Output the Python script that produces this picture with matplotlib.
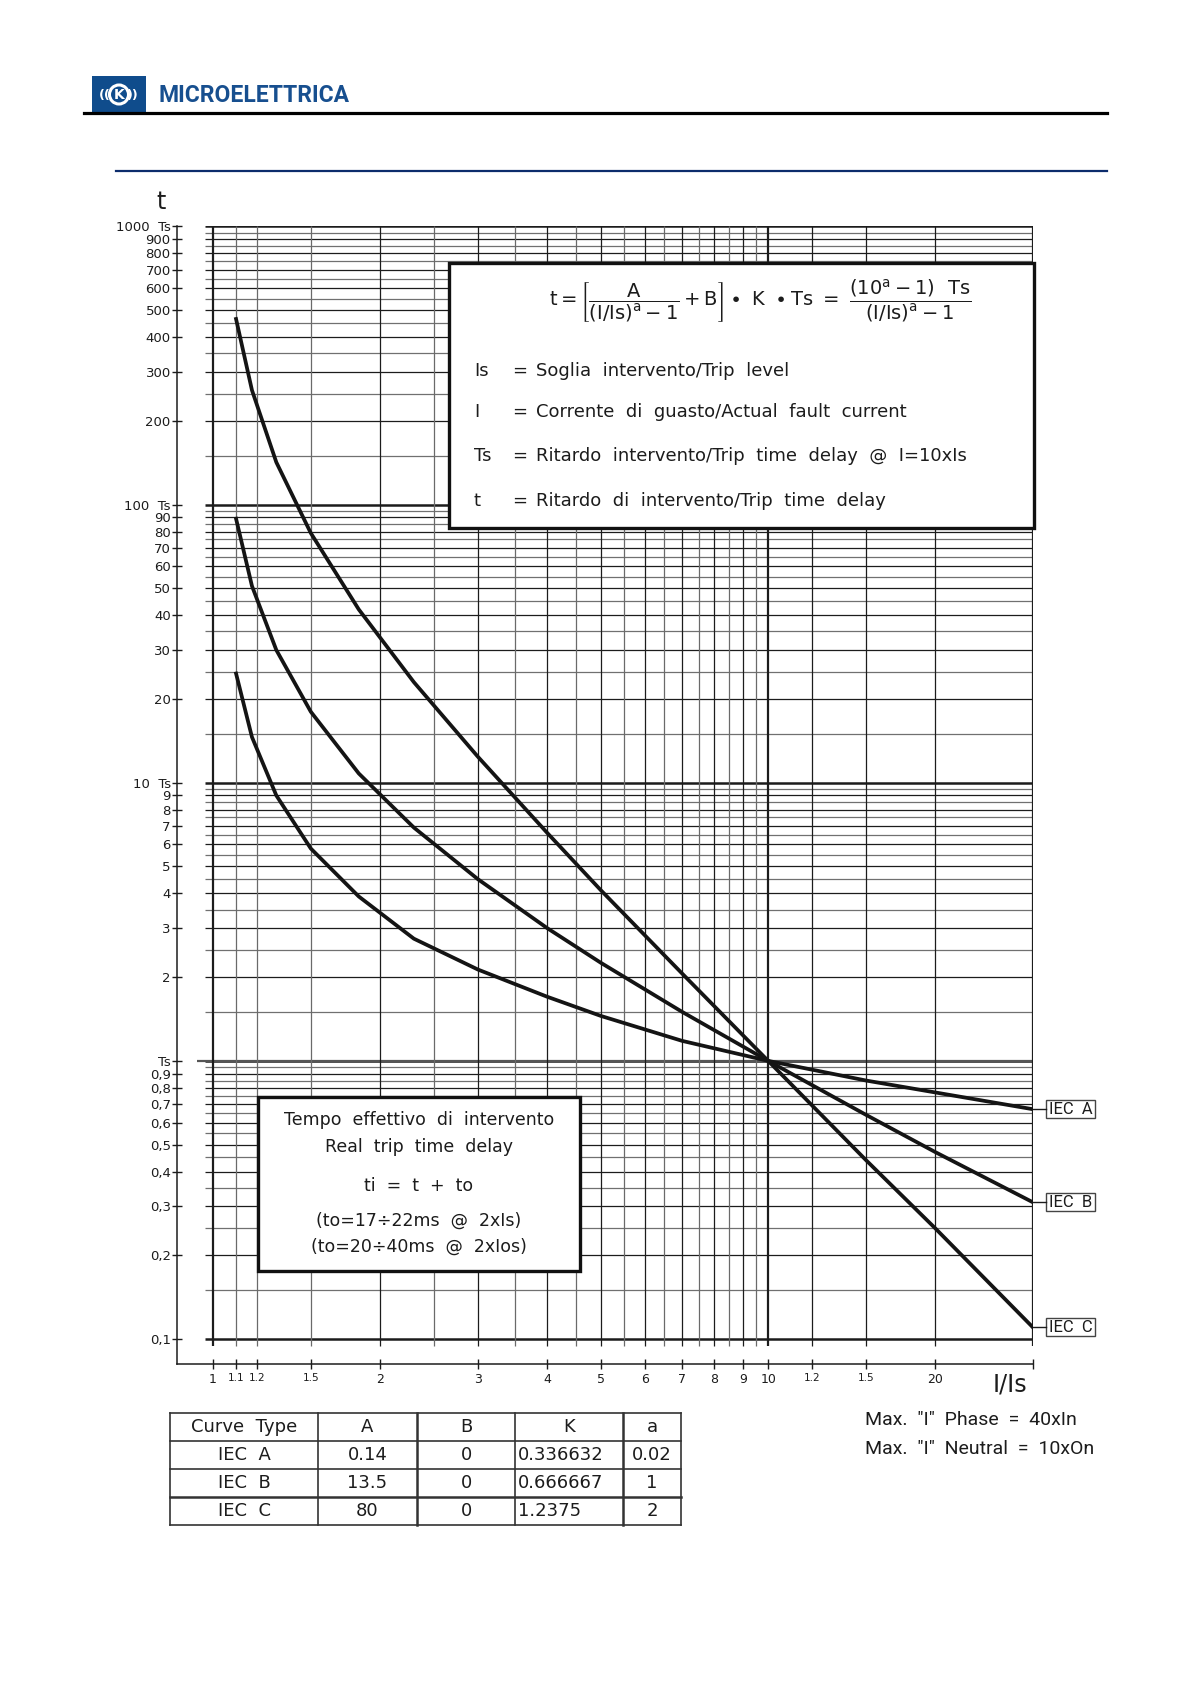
import matplotlib
matplotlib.use("Agg")
import matplotlib.pyplot as plt
from matplotlib.patches import Rectangle, Circle
from matplotlib.ticker import NullLocator

plt.rcParams['font.family'] = ['DejaVu Sans']
plt.rcParams['mathtext.fontset'] = 'dejavusans'
NARROW = ['Roboto', 'DejaVu Sans']
INK = '#1c1c1c'

# curve points (I/Is, t in multiples of Ts)
x_pts = [1.1, 1.175, 1.3, 1.5, 1.83, 2.3, 3, 4, 5, 7, 10, 15, 20, 30]
iec_a = [24.7, 14.6, 9.0, 5.8, 3.9, 2.75, 2.13, 1.70, 1.45, 1.18, 1.0, 0.85, 0.77, 0.67]
iec_b = [89, 51, 30, 18, 10.8, 6.9, 4.5, 3.0, 2.25, 1.5, 1.0, 0.64, 0.47, 0.31]
iec_c = [465, 258, 142, 79, 42, 23, 12.4, 6.6, 4.1, 2.06, 1.0, 0.44, 0.25, 0.11]
curve_names = ['IEC  A', 'IEC  B', 'IEC  C']

# axis ticks
x_ticks = [1, 1.1, 1.2, 1.5, 2, 3, 4, 5, 6, 7, 8, 9, 10, 12, 15, 20, 30]
x_labels = ['1', '1.1', '1.2', '1.5', '2', '3', '4', '5', '6', '7', '8', '9', '10', '1.2', '1.5', '20', '']
y_ticks = [0.1, 0.2, 0.3, 0.4, 0.5, 0.6, 0.7, 0.8, 0.9, 1,
           2, 3, 4, 5, 6, 7, 8, 9, 10,
           20, 30, 40, 50, 60, 70, 80, 90, 100,
           200, 300, 400, 500, 600, 700, 800, 900, 1000]
y_labels = ['0,1', '0,2', '0,3', '0,4', '0,5', '0,6', '0,7', '0,8', '0,9', 'Ts',
            '2', '3', '4', '5', '6', '7', '8', '9', '10  Ts',
            '20', '30', '40', '50', '60', '70', '80', '90', '100  Ts',
            '200', '300', '400', '500', '600', '700', '800', '900', '1000  Ts']

# grid of the log paper
grid_x = [1, 1.1, 1.2, 1.5, 2, 2.5, 3, 3.5, 4, 4.5, 5, 5.5, 6, 6.5, 7, 7.5,
          8, 8.5, 9, 9.5, 10, 12, 15, 20, 30]
grid_mult = [1, 1.5, 2, 2.5, 3, 3.5, 4, 4.5, 5, 5.5, 6, 6.5, 7, 7.5, 8, 8.5, 9, 9.5]
decades = [0.1, 1, 10, 100]

# table under the chart
table_header = ['Curve  Type', 'A', 'B', 'K', 'a']
table_rows = [['IEC  A', '0.14', '0', '0.336632', '0.02'],
              ['IEC  B', '13.5', '0', '0.666667', '1'],
              ['IEC  C', '80', '0', '1.2375', '2']]

W, H = 1192, 1685
fig = plt.figure(figsize=(W / 100, H / 100), dpi=100)
fig.patch.set_facecolor('white')

ax = fig.add_axes([177 / W, 1 - 1364 / H, (1033 - 177) / W, (1364 - 226.5) / H])
ax.set_xscale('log')
ax.set_yscale('log')
ax.set_xlim(0.861, 30)
ax.set_ylim(0.0813, 1000)

# horizontal lines
for d in decades:
    for m in grid_mult:
        v = d * m
        if m == 1:
            ax.hlines(v, 0.967, 30, color=INK, lw=1.8, zorder=1)
        elif m % 1:
            ax.hlines(v, 0.967, 30, color='#707070', lw=0.9, zorder=1)
        else:
            ax.hlines(v, 0.967, 30, color=INK, lw=0.9, zorder=1)
ax.hlines(1000, 0.967, 30, color=INK, lw=1.8, zorder=1)
ax.hlines(1, 0.936, 30, color='#555555', lw=1.6, zorder=1)
# vertical lines
for v in grid_x:
    if v in (1, 10, 30):
        ax.vlines(v, 0.0944, 1000, color=INK, lw=1.6, zorder=1)
    elif v % 1:
        ax.vlines(v, 0.0944, 1000, color='#6a6a6a', lw=0.9, zorder=1)
    else:
        ax.vlines(v, 0.0944, 1000, color=INK, lw=0.9, zorder=1)

for ys in (iec_a, iec_b, iec_c):
    ax.plot(x_pts, ys, color='#141414', lw=2.7, solid_joinstyle='round', zorder=3)

ax.spines['top'].set_visible(False)
ax.spines['right'].set_visible(False)
for s in ('left', 'bottom'):
    ax.spines[s].set_color(INK)
    ax.spines[s].set_linewidth(1.1)
ax.set_xticks(x_ticks)
ax.set_xticklabels(x_labels)
ax.set_yticks(y_ticks)
ax.set_yticklabels(y_labels)
ax.xaxis.set_minor_locator(NullLocator())
ax.yaxis.set_minor_locator(NullLocator())
ax.tick_params(direction='inout', length=7, width=1, colors=INK)
ax.tick_params(axis='y', pad=1, labelsize=9.5)
ax.tick_params(axis='x', pad=3, labelsize=9)
for lab in ax.get_xticklabels():
    if '.' in lab.get_text():
        lab.set_fontsize(7.5)
ax.patch.set_alpha(0)

# overlay in page pixels
ov = fig.add_axes([0, 0, 1, 1], zorder=5)
ov.set_xlim(0, W)
ov.set_ylim(H, 0)
ov.axis('off')
ov.patch.set_alpha(0)


def to_px(x, y):
    dx, dy = ax.transData.transform((x, y))
    return dx, H - dy


# header
ov.add_patch(Rectangle((92, 76), 54, 37, color='#0f4c8c', lw=0))
ov.add_patch(Circle((119, 94.5), 9.5, fill=False, ec='white', lw=2.2))
ov.text(119, 95, 'K', color='white', fontsize=10, fontweight='bold', ha='center', va='center')
ov.text(105, 95, '((', color='white', fontsize=9, fontweight='bold', ha='center', va='center')
ov.text(133, 95, '))', color='white', fontsize=9, fontweight='bold', ha='center', va='center')
ov.text(158, 95, 'MICROELETTRICA', color='#174f8f', fontsize=16.5, fontweight='bold',
        family=NARROW, ha='left', va='center')
ov.plot([84, 1107], [113.5, 113.5], color='black', lw=2.3)
ov.plot([116, 1107], [171.5, 171.5], color='#0c2c6c', lw=1.6)

# axis titles
ov.text(161, 202, 't', fontsize=17, color=INK, ha='center', va='center')
ov.text(1010, 1385, 'I/Is', fontsize=17, color=INK, ha='center', va='center')

# formula box
ov.add_patch(Rectangle((449, 263), 585, 265, fc='white', ec='#111111', lw=2.4, zorder=4))
ov.text(760, 301, r'$\mathrm{t}=\left[\dfrac{\mathrm{A}}{(\mathrm{I/Is})^{\mathrm{a}}-1}+\mathrm{B}\right]'
        r'\bullet\ \mathrm{K}\ \bullet\mathrm{Ts}\ =\ \dfrac{(10^{\mathrm{a}}-1)\ \ \mathrm{Ts}}'
        r'{(\mathrm{I/Is})^{\mathrm{a}}-1}$',
        fontsize=14, color=INK, ha='center', va='center', zorder=6)
defs = [('Is', 'Soglia  intervento/Trip  level', 371),
        ('I', 'Corrente  di  guasto/Actual  fault  current', 412),
        ('Ts', 'Ritardo  intervento/Trip  time  delay  @  I=10xIs', 456),
        ('t', 'Ritardo  di  intervento/Trip  time  delay', 501)]
for sym, txt, yy in defs:
    ov.text(474, yy, sym, fontsize=13, color=INK, ha='left', va='center', zorder=6)
    ov.text(512, yy, '=', fontsize=13, color=INK, ha='left', va='center', zorder=6)
    ov.text(536, yy, txt, fontsize=13, color=INK, ha='left', va='center', zorder=6)

# real trip time box
ov.add_patch(Rectangle((258, 1097), 322, 174, fc='white', ec='#111111', lw=2.4, zorder=4))
lines = [('Tempo  effettivo  di  intervento', 1120), ('Real  trip  time  delay', 1147),
         ('ti  =  t  +  to', 1186), ('(to=17÷22ms  @  2xIs)', 1221),
         ('(to=20÷40ms  @  2xIos)', 1247)]
for txt, yy in lines:
    ov.text(419, yy, txt, fontsize=12.5, color=INK, ha='center', va='center', zorder=6)

# curve end labels
for name, ys in zip(curve_names, (iec_a, iec_b, iec_c)):
    px, py = to_px(x_pts[-1], ys[-1])
    ov.plot([px, px + 13], [py, py], color=INK, lw=1)
    ov.add_patch(Rectangle((px + 13, py - 9), 49, 18, fc='white', ec='#444444', lw=1))
    ov.text(px + 16, py, name, fontsize=12, family=NARROW, color=INK, ha='left', va='center')

# max current notes
ov.text(865, 1420, 'Max.  "I"  Phase  =  40xIn', fontsize=14, family=NARROW, color=INK,
        ha='left', va='center')
ov.text(865, 1449, 'Max.  "I"  Neutral  =  10xOn', fontsize=14, family=NARROW, color=INK,
        ha='left', va='center')

# parameter table
col_edges = [170, 318, 417, 515, 623, 681]
row_edges = [1413, 1441, 1469, 1497, 1525]
col_lw = [1.2, 1.2, 1.8, 1.2, 1.8, 1.2]
row_lw = [1.2, 1.2, 1.2, 1.8, 1.2]
for x, lw in zip(col_edges, col_lw):
    ov.plot([x, x], [row_edges[0], row_edges[-1]], color='#333333', lw=lw)
for y, lw in zip(row_edges, row_lw):
    ov.plot([col_edges[0], col_edges[-1]], [y, y], color='#333333', lw=lw)
for r, row in enumerate([table_header] + table_rows):
    yy = (row_edges[r] + row_edges[r + 1]) / 2
    for c, cell in enumerate(row):
        if c == 3 and r > 0:
            ov.text(col_edges[c] + 3, yy, cell, fontsize=13, color=INK, ha='left', va='center')
        else:
            xx = (col_edges[c] + col_edges[c + 1]) / 2
            ov.text(xx, yy, cell, fontsize=13, color=INK, ha='center', va='center')

fig.savefig('out.png', dpi=100)
